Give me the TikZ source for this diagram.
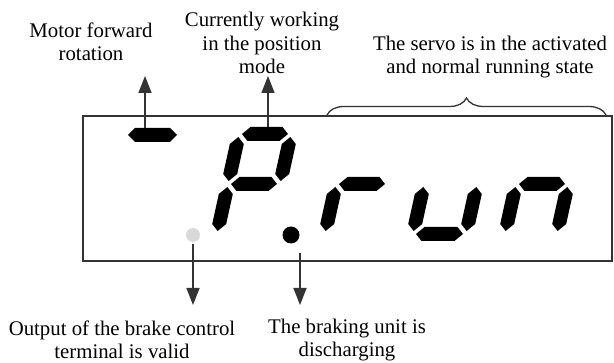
\documentclass[tikz,border=0pt]{standalone}
\usepackage{fontspec}
\setmainfont{Liberation Serif}
\usepackage{xcolor}
\usepackage{tikz}
\usetikzlibrary{arrows.meta,decorations.pathreplacing}
\definecolor{panelline}{HTML}{333333}
\definecolor{ledoff}{HTML}{D9D9D9}
\newcommand{\notefont}{\fontsize{20.8}{23.5}\selectfont}
\newcommand{\segw}{7}
% horizontal segment: x from, x to, y
\newcommand{\hseg}[3]{\fill[ledseg] (#1,#3) -- ({#1+\segw},{#3-\segw}) -- ({#2-\segw},{#3-\segw}) -- (#2,#3) -- ({#2-\segw},{#3+\segw}) -- ({#1+\segw},{#3+\segw}) -- cycle;}
% vertical segment: x, y from, y to
\newcommand{\vseg}[3]{\fill[ledseg] (#1,#2) -- ({#1+\segw},{#2+\segw}) -- ({#1+\segw},{#3-\segw}) -- (#1,#3) -- ({#1-\segw},{#3-\segw}) -- ({#1-\segw},{#2+\segw}) -- cycle;}

\begin{document}
\begin{tikzpicture}[
  x=1pt, y=-1pt,
  every node/.style={font=\notefont},
  note/.style={align=center, inner sep=0pt},
  ledseg/.style={fill=black},
  panel/.style={draw=panelline, line width=1.6pt},
  arrow/.style={-{Triangle[length=17pt,width=13pt]}, line width=1.6pt, draw=panelline},
  bracket/.style={draw=panelline, line width=1.3pt,
                  decorate, decoration={brace, amplitude=17pt}},
  digit/.style={xslant=0.22}
]
\useasboundingbox (0,0) rectangle (614,363);

% labels
\node[note] (motor) at (91,42) {Motor forward\\rotation};
\node[note] (posmode) at (262,43) {Currently working\\in the position\\mode};
\node[note] (servo) at (490,57) {The servo is in the activated\\and normal running state};
\node[note] (brake) at (122,340) {Output of the brake control\\terminal is valid};
\node[note] (braking) at (347,340) {The braking unit is\\discharging};

% display panel
\draw[panel] (83,116) rectangle (612,261);

% minus sign
\hseg{128}{177}{135}
% P
\begin{scope}[shift={(228,184)}, digit]
  \hseg{3}{49}{-50}
  \vseg{0}{-47}{-3}
  \vseg{52}{-47}{-3}
  \hseg{3}{49}{0}
  \vseg{0}{3}{47}
\end{scope}
% r
\begin{scope}[shift={(336,184)}, digit]
  \hseg{3}{49}{0}
  \vseg{0}{3}{47}
\end{scope}
% u
\begin{scope}[shift={(424,184)}, digit]
  \vseg{0}{3}{47}
  \vseg{53}{3}{47}
  \hseg{3}{50}{50}
\end{scope}
% n
\begin{scope}[shift={(516,184)}, digit]
  \hseg{3}{49}{0}
  \vseg{0}{3}{47}
  \vseg{52}{3}{47}
\end{scope}

% decimal points
\fill[ledoff] (193,235) circle (7);
\fill[black] (291,235) circle (8.5);

% connector ends
\coordinate (minustop) at (145,128);
\coordinate (minustip) at (145,76);
\coordinate (ptop) at (268,127);
\coordinate (ptip) at (268,76);
\coordinate (brakedot) at (193,244);
\coordinate (braketip) at (193,305);
\coordinate (unitdot) at (300,253);
\coordinate (unittip) at (300,305);
\coordinate (runleft) at (327,115);
\coordinate (runright) at (606,115);

\draw[arrow] (minustop) -- (minustip);
\draw[arrow] (ptop) -- (ptip);
\draw[arrow] (brakedot) -- (braketip);
\draw[arrow] (unitdot) -- (unittip);
\draw[bracket] (runleft) -- (runright);
\end{tikzpicture}
\end{document}
